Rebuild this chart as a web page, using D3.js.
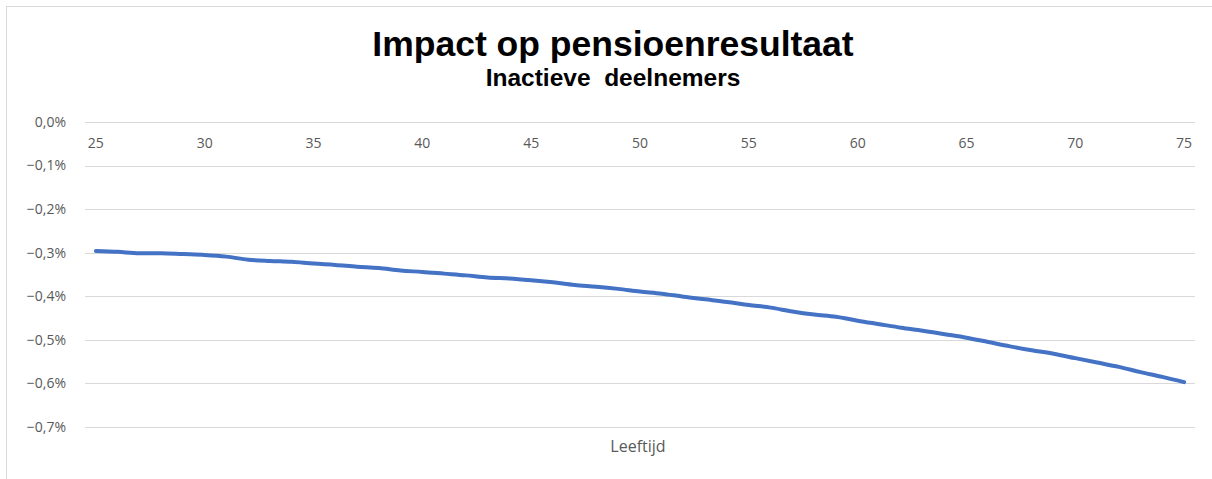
<!DOCTYPE html>
<html>
<head>
<meta charset="utf-8">
<script src="https://cdn.jsdelivr.net/npm/d3@7"></script>
<style>
  body { margin: 0; background: #fff; }
  svg { display: block; }
</style>
</head>
<body>
<div id="chart"></div>
<script>
// ages on the category axis
const ages = d3.range(25, 76);
// impact in % per age
const impact = [
  -0.296, -0.298, -0.301, -0.301, -0.303, -0.305, -0.309, -0.316, -0.319, -0.321,
  -0.325, -0.328, -0.332, -0.335, -0.341, -0.344, -0.348, -0.352, -0.357, -0.359,
  -0.363, -0.368, -0.374, -0.378, -0.383, -0.389, -0.394, -0.401, -0.407, -0.413,
  -0.420, -0.426, -0.435, -0.442, -0.447, -0.456, -0.464, -0.472, -0.479, -0.487,
  -0.495, -0.505, -0.515, -0.524, -0.532, -0.542, -0.552, -0.562, -0.574, -0.585,
  -0.597
];
const yTicks = [0, -0.1, -0.2, -0.3, -0.4, -0.5, -0.6, -0.7];
const xLabels = [25, 30, 35, 40, 45, 50, 55, 60, 65, 70, 75];

const width = 1212, height = 479;
const margin = {left: 85, right: 17, top: 122, bottom: 52};

const svg = d3.select("#chart").append("svg")
    .attr("width", width)
    .attr("height", height);

// chart border (only top/left visible in crop)
svg.append("rect")
    .attr("x", 6.5).attr("y", 6.5)
    .attr("width", width + 10).attr("height", height + 10)
    .attr("fill", "none")
    .attr("stroke", "#d9d9d9");

const x = d3.scaleBand()
    .domain(ages)
    .range([margin.left, width - margin.right]);

const y = d3.scaleLinear()
    .domain([0, -0.7])
    .range([margin.top, height - margin.bottom]);

const fmt = v => (v === 0 ? "0,0%" : d3.format(".1f")(v).replace(".", ",") + "%");

// gridlines
svg.append("g")
    .selectAll("line")
    .data(yTicks)
    .enter().append("line")
    .attr("x1", margin.left)
    .attr("x2", width - margin.right)
    .attr("y1", d => Math.round(y(d)) + 0.5)
    .attr("y2", d => Math.round(y(d)) + 0.5)
    .style("stroke", "#d9d9d9")
    .style("stroke-width", 1.2);

// y labels
svg.append("g")
    .selectAll("text")
    .data(yTicks)
    .enter().append("text")
    .attr("x", 66)
    .attr("y", d => y(d))
    .attr("dy", "0.35em")
    .attr("text-anchor", "end")
    .text(fmt)
    .style("fill", "#595959")
    .style("font-size", "14px")
    .style("font-family", "'Open Sans', sans-serif");

// x labels, sitting just below the 0 line
svg.append("g")
    .selectAll("text")
    .data(xLabels)
    .enter().append("text")
    .attr("x", d => x(d) + x.bandwidth() / 2)
    .attr("y", y(0) + 26)
    .attr("text-anchor", "middle")
    .text(d => d)
    .style("fill", "#595959")
    .style("font-size", "14px")
    .style("font-family", "'Open Sans', sans-serif");

// line
const line = d3.line()
    .x((d, i) => x(ages[i]) + x.bandwidth() / 2)
    .y(d => y(d))
    .curve(d3.curveMonotoneX);

svg.append("path")
    .datum(impact)
    .attr("d", line)
    .style("fill", "none")
    .style("stroke", "#4472c4")
    .style("stroke-width", 4)
    .style("stroke-linecap", "round")
    .style("stroke-linejoin", "round");

// titles
svg.append("text")
    .attr("x", 613).attr("y", 56)
    .attr("text-anchor", "middle")
    .text("Impact op pensioenresultaat")
    .style("font-family", "'Liberation Sans', Arial, sans-serif")
    .style("font-weight", "bold")
    .style("font-size", "35.5px")
    .style("fill", "#000");

svg.append("text")
    .attr("x", 613).attr("y", 86)
    .attr("text-anchor", "middle")
    .text("Inactieve  deelnemers")
    .style("white-space", "pre")
    .style("font-family", "'Liberation Sans', Arial, sans-serif")
    .style("font-weight", "bold")
    .style("font-size", "24.5px")
    .style("fill", "#000");

// axis title
svg.append("text")
    .attr("x", 638).attr("y", 452)
    .attr("text-anchor", "middle")
    .text("Leeftijd")
    .style("fill", "#595959")
    .style("font-size", "16px")
    .style("font-family", "'Open Sans', sans-serif");
</script>
</body>
</html>
